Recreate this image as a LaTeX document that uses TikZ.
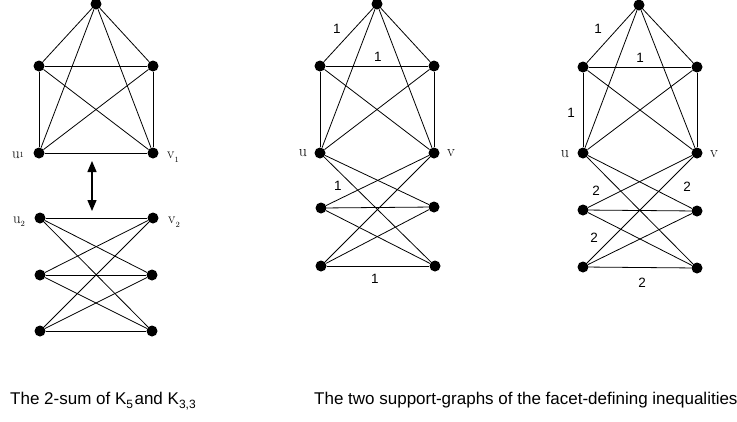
\documentclass[tikz,border=0pt]{standalone}
\usepackage{fontspec}
\newfontfamily\capfont{Liberation Sans}
\usetikzlibrary{arrows.meta}
\newcommand{\lowsub}[1]{\raisebox{-0.28em}{\fontsize{12}{12}\selectfont #1}}
\tikzset{
  dot/.style={circle,fill=black,inner sep=0pt,minimum size=11pt},
  edge/.style={line width=0.8pt},
  wlab/.style={font=\capfont\fontsize{13.5}{14}\selectfont,inner sep=0pt},
  vlab/.style={font=\fontsize{16}{16}\selectfont,inner sep=0pt},
  slab/.style={font=\fontsize{15}{15}\selectfont,inner sep=0pt},
  caption/.style={font=\capfont\fontsize{17}{18}\selectfont,inner sep=0pt,anchor=base west}
}
\begin{document}
\begin{tikzpicture}[x=1pt,y=-1pt]
\useasboundingbox[fill=white] (0,0) rectangle (737,421);
% ---------- left: K5 and K3,3 ----------
\node[dot] (Lt) at (96,4) {};
\node[dot] (Lul) at (39,66) {};
\node[dot] (Lur) at (153,66) {};
\node[dot] (Lu1) at (39,153) {};
\node[dot] (Lv1) at (153,153) {};
\foreach \a/\b in {Lt/Lul,Lt/Lur,Lt/Lu1,Lt/Lv1,Lul/Lur,Lul/Lu1,Lul/Lv1,Lur/Lu1,Lur/Lv1,Lu1/Lv1}
  \draw[edge] (\a) -- (\b);
\node[dot] (Lu2) at (40,218) {};
\node[dot] (Lv2) at (153,218) {};
\node[dot] (Lml) at (40,275) {};
\node[dot] (Lmr) at (152,275) {};
\node[dot] (Lbl) at (40,331) {};
\node[dot] (Lbr) at (152,331) {};
\foreach \a in {Lu2,Lml,Lbl}
  \foreach \b in {Lv2,Lmr,Lbr}
    \draw[edge] (\a) -- (\b);
\coordinate (ArT) at (92,161);
\coordinate (ArB) at (92,211);
\draw[line width=1.4pt,{Triangle[length=11pt,width=9pt]}-{Triangle[length=11pt,width=9pt]}] (ArT) -- (ArB);
\node[slab,anchor=base] (lu1) at (18,158) {u\raisebox{0.05em}{\fontsize{8}{8}\selectfont 1}};
\node[slab,anchor=base] (lv1) at (173,158) {v\raisebox{-0.3em}{\fontsize{8}{8}\selectfont 1}};
\node[slab,anchor=base] (lu2) at (19,223) {u\raisebox{-0.2em}{\fontsize{8}{8}\selectfont 2}};
\node[slab,anchor=base] (lv2) at (174,223) {v\raisebox{-0.3em}{\fontsize{8}{8}\selectfont 2}};
% ---------- middle ----------
\node[dot] (Mt) at (377,4) {};
\node[dot] (Mul) at (320,66) {};
\node[dot] (Mur) at (434,66) {};
\node[dot] (Mu) at (320,153) {};
\node[dot] (Mv) at (434,153) {};
\node[dot] (Mml) at (321,208) {};
\node[dot] (Mmr) at (434,207) {};
\node[dot] (Mbl) at (321,266) {};
\node[dot] (Mbr) at (435,266) {};
\foreach \a/\b in {Mt/Mul,Mt/Mur,Mt/Mu,Mt/Mv,Mul/Mur,Mul/Mu,Mul/Mv,Mur/Mu,Mur/Mv,
  Mu/Mmr,Mu/Mbr,Mv/Mml,Mv/Mbl,Mml/Mmr,Mml/Mbr,Mbl/Mmr,Mbl/Mbr}
  \draw[edge] (\a) -- (\b);
\node[vlab] (mu) at (303,153) {u};
\node[vlab] (mv) at (451,153) {v};
\node[wlab] (m1) at (337,29) {1};
\node[wlab] (m2) at (378,57) {1};
\node[wlab] (m3) at (338,186) {1};
\node[wlab] (m4) at (375,279) {1};
% ---------- right ----------
\node[dot] (Rt) at (639,5) {};
\node[dot] (Rul) at (583,67) {};
\node[dot] (Rur) at (697,67) {};
\node[dot] (Ru) at (583,153) {};
\node[dot] (Rv) at (697,153) {};
\node[dot] (Rml) at (583,210) {};
\node[dot] (Rmr) at (697,211) {};
\node[dot] (Rbl) at (583,267) {};
\node[dot] (Rbr) at (697,268) {};
\foreach \a/\b in {Rt/Rul,Rt/Rur,Rt/Ru,Rt/Rv,Rul/Rur,Rul/Ru,Rul/Rv,Rur/Ru,Rur/Rv,
  Ru/Rmr,Ru/Rbr,Rv/Rml,Rv/Rbl,Rml/Rmr,Rml/Rbr,Rbl/Rmr,Rbl/Rbr}
  \draw[edge] (\a) -- (\b);
\node[vlab] (ru) at (565,154) {u};
\node[vlab] (rv) at (714,154) {v};
\node[wlab] (r1) at (598,29) {1};
\node[wlab] (r2) at (640,58) {1};
\node[wlab] (r3) at (571,113) {1};
\node[wlab] (r4) at (596,191) {2};
\node[wlab] (r5) at (687,187) {2};
\node[wlab] (r6) at (594,238) {2};
\node[wlab] (r7) at (642,283) {2};
% ---------- captions ----------
\node[caption] (c1) at (10,404) {The 2-sum of K\lowsub{5}\hspace{1.5pt}and K\lowsub{3,3}};
\node[caption] (c2) at (314,404) {The two support-graphs of the facet-defining inequalities};
\end{tikzpicture}
\end{document}
